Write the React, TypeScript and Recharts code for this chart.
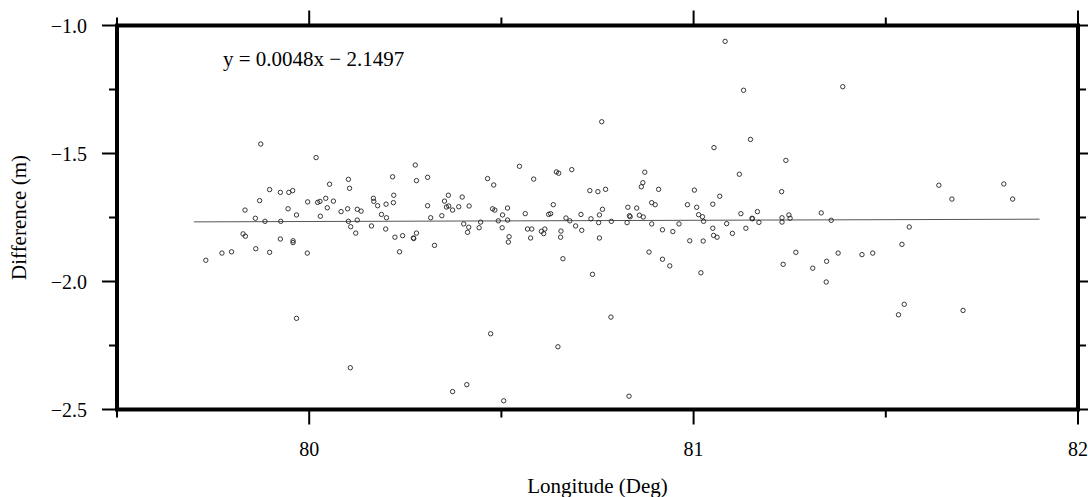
import { ScatterChart, Scatter, XAxis, YAxis, ReferenceArea, ReferenceLine } from 'recharts';

// longitude (deg) and height difference (m) of each crossover point
const lon = [
  79.874, 80.018, 80.053, 79.897, 79.925, 79.947, 79.957, 79.871, 79.996, 80.022, 80.028, 80.043,
  79.833, 79.945, 80.047, 79.967, 80.029, 79.86, 79.885, 79.926, 79.828, 79.834, 79.925, 79.958,
  79.958, 79.861, 79.773, 79.798, 79.897, 79.995, 79.731, 79.967, 80.107,
  80.102, 80.105, 80.063, 80.083, 80.1, 80.125, 80.135, 80.102, 80.125, 80.108, 80.121, 80.167,
  80.168, 80.178, 80.2, 80.219, 80.22, 80.217, 80.276, 80.279, 80.308, 80.188, 80.201, 80.162,
  80.199, 80.223, 80.243, 80.271, 80.272, 80.279, 80.235, 80.326, 80.308, 80.316, 80.345, 80.352,
  80.362, 80.357, 80.363, 80.373, 80.389, 80.398, 80.416, 80.402, 80.415, 80.412,
  80.761, 80.547, 80.464, 80.48, 80.584, 80.643, 80.649, 80.683, 80.73, 80.751, 80.771, 80.477,
  80.483, 80.516, 80.503, 80.562, 80.635, 80.623, 80.628, 80.492, 80.516, 80.446, 80.442, 80.502,
  80.52, 80.518, 80.568, 80.579, 80.576, 80.604, 80.613, 80.61, 80.668, 80.678, 80.655, 80.654,
  80.707, 80.693, 80.709, 80.733, 80.755, 80.763, 80.753, 80.755, 80.66, 80.737, 80.785,
  80.472, 80.647, 80.41, 80.373, 80.506, 80.832,
  80.873, 80.868, 80.864, 80.909, 81.002, 80.891, 80.9, 80.984, 80.829, 80.852, 81.008, 80.833,
  80.835, 80.859, 80.869, 81.013, 80.786, 80.827, 80.891, 80.919, 80.946, 80.962, 80.99, 80.884,
  80.919, 80.938,
  81.082, 81.13, 81.388, 81.148, 81.053, 81.24, 81.119, 81.229, 81.638, 81.807, 81.672, 81.83,
  81.068, 81.05, 81.023, 81.026, 81.123, 81.152, 81.153, 81.166, 81.17, 81.23, 81.23, 81.248,
  81.251, 81.332, 81.358, 81.05, 81.086, 81.136, 81.052, 81.061, 81.101, 81.025, 81.561, 81.266,
  81.376, 81.438, 81.466, 81.542, 81.233, 81.346, 81.31, 81.345, 81.019, 81.548, 81.533, 81.701,
];

const diff = [
  -1.463, -1.516, -1.62, -1.641, -1.652, -1.652, -1.645, -1.684, -1.689, -1.691, -1.687, -1.675,
  -1.721, -1.716, -1.712, -1.74, -1.745, -1.753, -1.765, -1.765, -1.814, -1.823, -1.834, -1.841,
  -1.848, -1.872, -1.889, -1.884, -1.886, -1.889, -1.917, -2.144, -2.337,
  -1.601, -1.636, -1.686, -1.727, -1.716, -1.718, -1.725, -1.765, -1.76, -1.786, -1.811, -1.675,
  -1.687, -1.704, -1.698, -1.692, -1.663, -1.591, -1.545, -1.606, -1.593, -1.738, -1.751, -1.783,
  -1.795, -1.827, -1.821, -1.83, -1.832, -1.811, -1.884, -1.859, -1.704, -1.751, -1.743, -1.686,
  -1.663, -1.709, -1.705, -1.721, -1.708, -1.67, -1.705, -1.775, -1.788, -1.808,
  -1.376, -1.55, -1.598, -1.623, -1.6, -1.572, -1.577, -1.563, -1.645, -1.649, -1.64, -1.716,
  -1.721, -1.713, -1.74, -1.735, -1.7, -1.738, -1.735, -1.763, -1.76, -1.768, -1.79, -1.79,
  -1.825, -1.846, -1.795, -1.795, -1.83, -1.804, -1.795, -1.813, -1.752, -1.763, -1.803, -1.827,
  -1.738, -1.783, -1.8, -1.755, -1.74, -1.718, -1.77, -1.83, -1.911, -1.972, -2.139,
  -2.204, -2.255, -2.403, -2.43, -2.466, -2.448,
  -1.573, -1.614, -1.63, -1.64, -1.643, -1.692, -1.7, -1.7, -1.71, -1.713, -1.71, -1.743,
  -1.747, -1.741, -1.748, -1.739, -1.765, -1.77, -1.775, -1.798, -1.805, -1.775, -1.841, -1.885,
  -1.913, -1.939,
  -1.062, -1.253, -1.239, -1.445, -1.477, -1.527, -1.581, -1.649, -1.624, -1.619, -1.678, -1.678,
  -1.667, -1.698, -1.747, -1.765, -1.735, -1.753, -1.755, -1.727, -1.769, -1.751, -1.768, -1.74,
  -1.753, -1.732, -1.761, -1.792, -1.774, -1.792, -1.82, -1.827, -1.812, -1.842, -1.787, -1.886,
  -1.889, -1.895, -1.889, -1.855, -1.933, -1.921, -1.948, -2.002, -1.966, -2.089, -2.13, -2.113,
];

const xTicks = [79.5, 80, 80.5, 81, 81.5, 82];
const yTicks = [-2.5, -2.25, -2, -1.75, -1.5, -1.25, -1];

// linear fit shown in the figure
const slope = 0.0048;
const intercept = -2.1497;
const fitRange = [79.7, 81.9];

const points = lon.map((x, i) => ({ x, y: diff[i] }));
const fitSegment = fitRange.map((x) => ({ x, y: slope * x + intercept }));

const FONT = "'Liberation Serif', 'DejaVu Serif', serif";
const textStyle = { fontFamily: FONT };

const isMajor = (v: number, step: number) => Math.abs(v / step - Math.round(v / step)) < 1e-6;

function XTick({ x, y, payload, side }: any) {
  const v = payload.value;
  const major = isMajor(v, 1);
  const len = major ? 15 : 8;
  const dir = side === 'top' ? -1 : 1;
  return (
    <g>
      <line x1={x} y1={y} x2={x} y2={y + dir * len} stroke="#000" strokeWidth={2} />
      {side === 'bottom' && major && (
        <text x={x} y={y + 46} textAnchor="middle" fontSize={20} style={textStyle} fill="#000">
          {v}
        </text>
      )}
    </g>
  );
}

function YTick({ x, y, payload, side }: any) {
  const v = payload.value;
  const major = isMajor(v, 0.5);
  const len = major ? 15 : 8;
  const dir = side === 'left' ? -1 : 1;
  return (
    <g>
      <line x1={x} y1={y} x2={x + dir * len} y2={y} stroke="#000" strokeWidth={2} />
      {side === 'left' && major && (
        <text x={x - 30} y={y + 7} textAnchor="end" fontSize={20} style={textStyle} fill="#000">
          {v.toFixed(1).replace('-', '\u2212')}
        </text>
      )}
    </g>
  );
}

const Dot = (props: any) => (
  <circle cx={props.cx} cy={props.cy} r={2.2} fill="none" stroke="#222" strokeWidth={0.9} />
);

export default function App() {
  return (
    <div style={{ position: 'absolute', left: 0, top: 0, width: 1088, height: 497, background: '#fff' }}>
      <ScatterChart width={1088} height={497} margin={{ top: 24.5, right: 9, bottom: 0, left: 0 }}>
        <XAxis
          type="number"
          dataKey="x"
          domain={[79.5, 82]}
          ticks={xTicks}
          interval={0}
          allowDataOverflow
          height={87.5}
          axisLine={false}
          tickLine={false}
          tickSize={0}
          tickMargin={0}
          tick={(p: any) => <XTick {...p} side="bottom" />}
        />
        <XAxis
          xAxisId="top"
          orientation="top"
          type="number"
          dataKey="x"
          domain={[79.5, 82]}
          ticks={xTicks}
          interval={0}
          allowDataOverflow
          height={1}
          axisLine={false}
          tickLine={false}
          tickSize={0}
          tickMargin={0}
          tick={(p: any) => <XTick {...p} side="top" />}
        />
        <YAxis
          type="number"
          dataKey="y"
          domain={[-2.5, -1]}
          ticks={yTicks}
          interval={0}
          allowDataOverflow
          width={117}
          axisLine={false}
          tickLine={false}
          tickSize={0}
          tickMargin={0}
          tick={(p: any) => <YTick {...p} side="left" />}
        />
        <YAxis
          yAxisId="right"
          orientation="right"
          type="number"
          dataKey="y"
          domain={[-2.5, -1]}
          ticks={yTicks}
          interval={0}
          allowDataOverflow
          width={1}
          axisLine={false}
          tickLine={false}
          tickSize={0}
          tickMargin={0}
          tick={(p: any) => <YTick {...p} side="right" />}
        />
        <ReferenceLine segment={fitSegment} stroke="#555" strokeWidth={1} />
        <Scatter data={points} shape={Dot} isAnimationActive={false} />
        <ReferenceArea x1={79.5} x2={82} y1={-2.5} y2={-1} fill="none" stroke="#000" strokeWidth={4} />
      </ScatterChart>
      <svg
        width={1088}
        height={497}
        style={{ position: 'absolute', left: 0, top: 0, pointerEvents: 'none', fontFamily: FONT }}
      >
        <text x={223} y={66} fontSize={21} fill="#000">
          y = 0.0048x {'\u2212'} 2.1497
        </text>
        <text x={597.5} y={492.5} fontSize={21} textAnchor="middle" fill="#000">
          Longitude (Deg)
        </text>
        <text
          x={0}
          y={0}
          fontSize={21}
          textAnchor="middle"
          fill="#000"
          transform="translate(26, 217.5) rotate(-90)"
        >
          Difference (m)
        </text>
      </svg>
    </div>
  );
}
